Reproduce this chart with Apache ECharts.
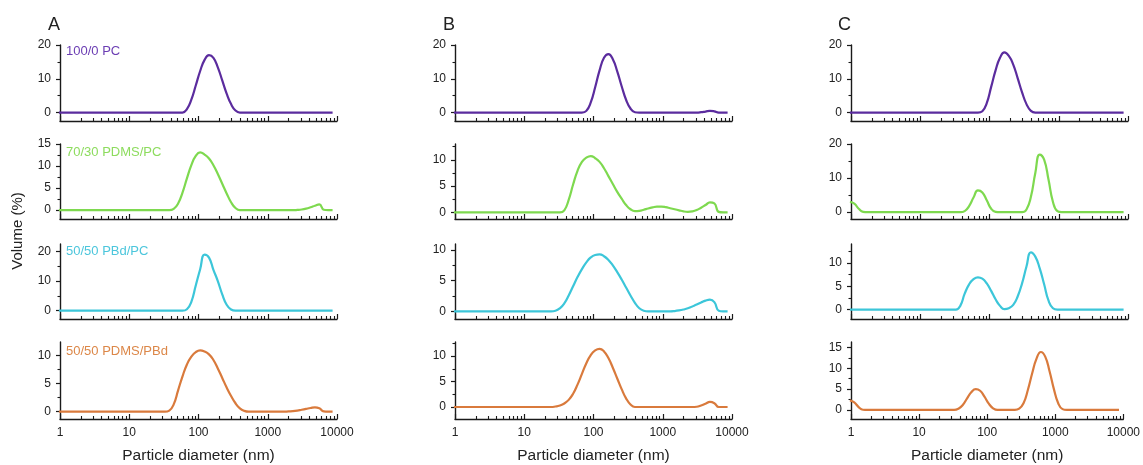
<!DOCTYPE html>
<html><head><meta charset="utf-8">
<script src="https://cdn.jsdelivr.net/npm/echarts@6/dist/echarts.min.js"></script>
<style>html,body{margin:0;padding:0;background:#fff}#c{width:1143px;height:465px}</style>
</head><body><div id="c"></div>
<script>
// Particle diameter bins (nm)
const diameters = [0.9649,1.117,1.294,1.499,1.736,2.01,2.328,2.696,3.122,3.615,
 4.187,4.849,5.615,6.503,7.531,8.721,10.1,11.7,13.54,15.69,
 18.17,21.04,24.36,28.21,32.67,37.84,43.82,50.75,58.77,68.06,
 78.82,91.28,105.7,122.4,141.8,164.2,190.1,220.2,255.0,295.3,
 342.0,396.1,458.7,531.2,615.1,712.4,825.0,955.4,1106,1281,
 1484,1718,1990,2305,2669,3091,3580,4145,4801,5560,
 6439,7456,8635];

// Column A
const volA_PC = [0,0,0,0,0,0,0,0,0,0, 0,0,0,0,0,0,0,0,0,0,
 0,0,0,0,0,0,0,0,0,1.0, 3.8,8.0,12.3,15.6,17.0,16.2,13.4,9.5,5.6,2.5,
 0.6,0,0,0,0,0,0,0,0,0, 0,0,0,0,0,0,0,0,0,0, 0,0,0];
const volA_PDMS_PC = [0,0,0,0,0,0,0,0,0,0, 0,0,0,0,0,0,0,0,0,0,
 0,0,0,0,0,0,0.3,1.5,4.0,7.2, 10.2,12.3,13.1,12.6,11.7,10.2,8.2,6.0,3.8,1.8,
 0.5,0,0,0,0,0,0,0,0,0, 0,0,0,0,0.05,0.15,0.35,0.65,1.0,1.3, 0.1,0,0];
const volA_PBd_PC = [0,0,0,0,0,0,0,0,0,0, 0,0,0,0,0,0,0,0,0,0,
 0,0,0,0,0,0,0,0,0,0.5, 3.0,8.5,14.0,18.9,17.9,13.8,10.0,5.5,2.0,0.4,
 0,0,0,0,0,0,0,0,0,0, 0,0,0,0,0,0,0,0,0,0, 0,0,0];
const volA_PDMS_PBd = [0,0,0,0,0,0,0,0,0,0, 0,0,0,0,0,0,0,0,0,0,
 0,0,0,0,0,0.2,1.3,3.8,6.3,8.4, 9.8,10.6,10.9,10.7,10.2,9.2,7.7,6.0,4.3,2.8,
 1.5,0.6,0.15,0,0,0,0,0,0,0, 0,0,0.05,0.1,0.2,0.35,0.5,0.65,0.78,0.6, 0.05,0,0];

// Column B
const volB_PC = [0,0,0,0,0,0,0,0,0,0, 0,0,0,0,0,0,0,0,0,0,
 0,0,0,0,0,0,0,0,0,0, 0.5,3.0,7.5,12.5,16.2,17.3,15.8,12.2,7.8,3.8,
 1.2,0.1,0,0,0,0,0,0,0,0, 0,0,0,0,0,0,0.1,0.3,0.5,0.35, 0,0,0];
const volB_PDMS_PC = [0,0,0,0,0,0,0,0,0,0, 0,0,0,0,0,0,0,0,0,0,
 0,0,0,0,0,0.4,2.4,5.3,7.9,9.6, 10.4,10.7,10.3,9.6,8.4,6.9,5.4,3.9,2.6,1.4,
 0.6,0.25,0.3,0.5,0.75,0.95,1.1,1.1,1.0,0.8, 0.6,0.4,0.2,0.12,0.2,0.45,0.9,1.4,1.9,1.7, 0.1,0,0];
const volB_PBd_PC = [0,0,0,0,0,0,0,0,0,0, 0,0,0,0,0,0,0,0,0,0,
 0,0,0,0.1,0.5,1.3,2.6,4.1,5.6,6.9, 8.0,8.8,9.2,9.3,9.0,8.4,7.5,6.4,5.2,3.9,
 2.6,1.4,0.5,0.1,0,0,0,0,0,0, 0.05,0.15,0.3,0.5,0.8,1.1,1.45,1.75,1.9,1.5, 0.1,0,0];
const volB_PDMS_PBd = [0,0,0,0,0,0,0,0,0,0, 0,0,0,0,0,0,0,0,0,0,
 0,0,0,0.1,0.3,0.7,1.4,2.6,4.4,6.5, 8.6,10.2,11.1,11.4,10.9,9.6,7.7,5.6,3.5,1.7,
 0.5,0,0,0,0,0,0,0,0,0, 0,0,0,0,0,0.05,0.3,0.65,1.0,0.75, 0,0,0];

// Column C
const volC_PC = [0,0,0,0,0,0,0,0,0,0, 0,0,0,0,0,0,0,0,0,0,
 0,0,0,0,0,0,0,0,0,0, 0.4,2.8,7.6,12.5,16.2,17.8,16.8,14.2,10.2,6.0,
 2.5,0.5,0,0,0,0,0,0,0,0, 0,0,0,0,0,0,0,0,0,0, 0,0,0];
const volC_PDMS_PC = [3.0,2.5,1.0,0.1,0,0,0,0,0,0, 0,0,0,0,0,0,0,0,0,0,
 0,0,0,0,0,0,0.3,1.8,4.3,6.4, 5.8,3.5,1.0,0.1,0,0,0,0,0,0,
 0.8,4.5,11.5,16.9,15.4,9.5,3.0,0.3,0,0, 0,0,0,0,0,0,0,0,0,0, 0,0,0];
const volC_PBd_PC = [0,0,0,0,0,0,0,0,0,0, 0,0,0,0,0,0,0,0,0,0,
 0,0,0,0,0,0.8,3.4,5.4,6.5,6.9, 6.6,5.6,4.0,2.2,0.8,0.1,0.3,1.0,2.8,5.6,
 9.2,12.2,11.3,8.8,5.4,1.9,0.3,0,0,0, 0,0,0,0,0,0,0,0,0,0, 0,0,0];
const volC_PDMS_PBd = [2.3,1.8,0.7,0.05,0,0,0,0,0,0, 0,0,0,0,0,0,0,0,0,0,
 0,0,0,0,0,0.3,1.2,2.8,4.3,5.0, 4.6,3.2,1.5,0.4,0,0,0,0,0,0.3,
 1.6,4.8,8.8,12.3,13.9,12.8,9.3,5.0,1.6,0.2, 0,0,0,0,0,0,0,0,0,0, 0,0,0];

// Tick labels
const ticks0_10_20 = [0,10,20];
const ticks0_5_10_15 = [0,5,10,15];
const ticks0_5_10 = [0,5,10];
const minor5_15 = [5,15];
const minor2_12 = [2.5,7.5,12.5];

const sampleNames = ['100/0 PC','70/30 PDMS/PC','50/50 PBd/PC','50/50 PDMS/PBd'];
const panelLetters = ['A','B','C'];
const xTitle = 'Particle diameter (nm)';
const yTitle = 'Volume (%)';

// layout
const lineColors = ['#5b2c9e','#7ed94f','#3cc6d9','#d97a3c'];
const nameColors = ['#6b3db3','#8ddc5e','#4cc6dc','#dc8748'];
const colLeft = [60,455,851], colWidth = 277;
const rowTop = [45,144,244,342], rowBottom = [121,219,319,419];
const FONT = 'Arial, "Liberation Sans", sans-serif';

const panels = [
 // data, col, row, ymin, ymax, ticks, minor
 [volA_PC,0,0,-2.5,20,ticks0_10_20,minor5_15],
 [volA_PDMS_PC,0,1,-2,15,ticks0_5_10_15,minor2_12],
 [volA_PBd_PC,0,2,-2.8,22.5,ticks0_10_20,minor5_15],
 [volA_PDMS_PBd,0,3,-1.3,12.4,ticks0_5_10,minor2_12],
 [volB_PC,1,0,-2.5,20,ticks0_10_20,minor5_15],
 [volB_PDMS_PC,1,1,-1.25,13,ticks0_5_10,minor2_12],
 [volB_PBd_PC,1,2,-1.25,11,ticks0_5_10,minor2_12],
 [volB_PDMS_PBd,1,3,-2.35,12.75,ticks0_5_10,minor2_12],
 [volC_PC,2,0,-2.5,20,ticks0_10_20,minor5_15],
 [volC_PDMS_PC,2,1,-2,20,ticks0_10_20,minor5_15],
 [volC_PBd_PC,2,2,-2,14,ticks0_5_10,minor2_12],
 [volC_PDMS_PBd,2,3,-2.17,16.3,ticks0_5_10_15,minor2_12]
];

const option = {animation:false, backgroundColor:'#fff', grid:[], xAxis:[], yAxis:[], series:[], graphic:[]};
const axisCol = '#1a1a1a';
panels.forEach((p,g)=>{
  const [vals,col,row,ymin,ymax,ticks,minor] = p;
  option.grid.push({left:colLeft[col], width:colWidth, top:rowTop[row], height:rowBottom[row]-rowTop[row]});
  option.xAxis.push({
    type:'log', logBase:10, gridIndex:g, min:1, max:10000,
    axisLine:{show:true, onZero:false, lineStyle:{color:axisCol, width:1.4}},
    axisTick:{show:true, inside:true, length:5, lineStyle:{color:axisCol, width:1.2}},
    minorTick:{show:true, splitNumber:9, length:3, lineStyle:{color:axisCol, width:1.1}},
    axisLabel:{show:row===3, margin:8, fontSize:12, color:'#222', fontFamily:FONT, formatter:v=>String(Math.round(v))},
    splitLine:{show:false}, minorSplitLine:{show:false},
    name: row===3 ? xTitle : '', nameLocation:'middle', nameGap:29,
    nameTextStyle:{fontSize:15.5, color:'#222', fontFamily:FONT}
  });
  option.yAxis.push({
    type:'value', gridIndex:g, min:ymin, max:ymax, position:'left',
    axisLine:{show:true, onZero:false, lineStyle:{color:axisCol, width:1.4}},
    axisTick:{show:true, length:4, customValues:ticks, lineStyle:{color:axisCol, width:1.2}},
    axisLabel:{show:true, customValues:ticks, margin:9, fontSize:12, color:'#222', fontFamily:FONT},
    splitLine:{show:false}
  });
  option.yAxis.push({
    type:'value', gridIndex:g, min:ymin, max:ymax, position:'left', offset:0,
    axisLine:{show:false},
    axisTick:{show:true, length:2.5, customValues:minor, lineStyle:{color:axisCol, width:1.1}},
    axisLabel:{show:false}, splitLine:{show:false}
  });
  option.series.push({
    type:'line', xAxisIndex:g, yAxisIndex:2*g, showSymbol:false, symbol:'none',
    smooth:0.5, clip:true,
    lineStyle:{color:lineColors[row], width:2.2},
    data: diameters.map((d,i)=>[d, vals[i]])
  });
});

const letterX = [48,443,838];
panelLetters.forEach((t,i)=>option.graphic.push({type:'text', x:letterX[i], y:25,
  style:{text:t, fill:'#222', fontSize:18, fontFamily:FONT, verticalAlign:'middle'}}));
const nameY = [51,152,251,351];
sampleNames.forEach((t,i)=>option.graphic.push({type:'text', x:66, y:nameY[i],
  style:{text:t, fill:nameColors[i], fontSize:13, fontFamily:FONT, verticalAlign:'middle'}}));
option.graphic.push({type:'text', x:18, y:231, rotation:Math.PI/2,
  style:{text:yTitle, fill:'#222', fontSize:15, fontFamily:FONT, align:'center', verticalAlign:'middle'}});

const chart = echarts.init(document.getElementById('c'), null, {renderer:'canvas'});
chart.setOption(option);
</script>
</body></html>
